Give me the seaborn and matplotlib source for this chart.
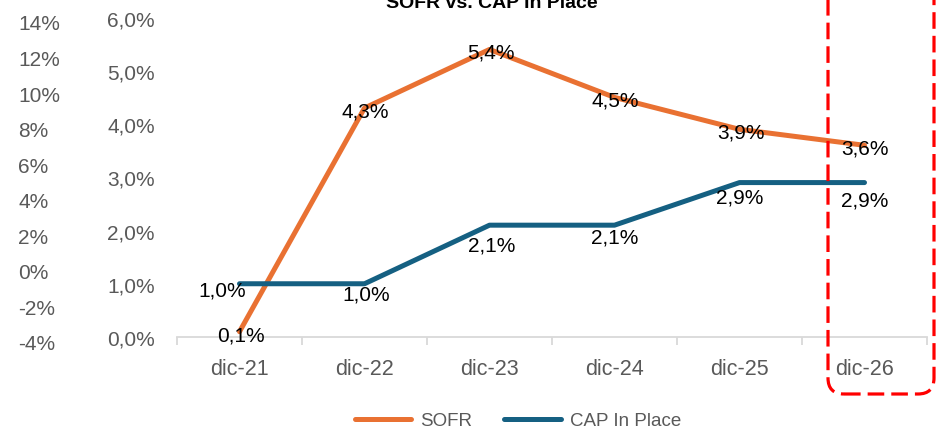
import matplotlib
matplotlib.use("Agg")
import matplotlib.pyplot as plt
import seaborn as sns
import pandas as pd
from matplotlib.lines import Line2D
from matplotlib.patches import FancyBboxPatch
from matplotlib.ticker import FixedLocator, FuncFormatter

# ---- data ----
periods = ["dic-21", "dic-22", "dic-23", "dic-24", "dic-25", "dic-26"]
sofr = [0.1, 4.3, 5.4, 4.5, 3.9, 3.6]
cap = [1.0, 1.0, 2.1, 2.1, 2.9, 2.9]
series_names = ["SOFR", "CAP In Place"]
left_ticks = [-4, -2, 0, 2, 4, 6, 8, 10, 12, 14]
main_ticks = [0, 1, 2, 3, 4, 5, 6]
title = "SOFR vs. CAP In Place"

df = pd.DataFrame({
    "period": periods * 2,
    "value": sofr + cap,
    "series": [series_names[0]] * len(periods) + [series_names[1]] * len(periods),
})

sns.set_theme(style="white")
plt.rcParams["font.family"] = ["Liberation Sans", "DejaVu Sans"]

W, H = 936, 431
fig = plt.figure(figsize=(W / 100, H / 100), dpi=100)
fig.patch.set_facecolor("white")

ax_left, ax_right = 177 / W, 927 / W
ax_bot, ax_top = 1 - 338 / H, 1 - 18.5 / H
ax = fig.add_axes([ax_left, ax_bot, ax_right - ax_left, ax_top - ax_bot])

orange = "#E97132"
blue = "#156082"
palette = {series_names[0]: orange, series_names[1]: blue}

sns.lineplot(data=df, x="period", y="value", hue="series", palette=palette,
             linewidth=3.6, legend=False, ax=ax, sort=False)
for ln in ax.get_lines():
    ln.set_solid_capstyle("round")

ax.set_xlim(-0.5, len(periods) - 0.5)
ax.set_ylim(0, 6)
ax.set_xlabel("")
ax.set_ylabel("")

for s in ["top", "right", "left"]:
    ax.spines[s].set_visible(False)
ax.spines["bottom"].set_color("#D9D9D9")
ax.spines["bottom"].set_linewidth(1.3)

grey = "#595959"
ax.yaxis.set_major_locator(FixedLocator(main_ticks))
ax.yaxis.set_major_formatter(FuncFormatter(lambda v, p: f"{v:.1f}".replace(".", ",") + "%"))
ax.tick_params(axis="y", length=0, pad=16, labelsize=15, labelcolor=grey)

ax.set_xticks(range(len(periods)))
ax.set_xticklabels(periods)
ax.tick_params(axis="x", which="major", bottom=True, length=0, pad=15, labelsize=15.5, labelcolor=grey)
ax.set_xticks([i - 0.5 for i in range(len(periods) + 1)], minor=True)
ax.tick_params(axis="x", which="minor", bottom=True, length=6, width=1.3,
               color="#D9D9D9", direction="out")

# data labels
for i, v in enumerate(sofr):
    ax.annotate(f"{v:.1f}".replace(".", ",") + "%", (i, v), textcoords="offset pixels",
                xytext=(1, -3), ha="center", va="center", fontsize=15, color="black")
cap_offsets = [(7, -6, "right"), (2, -10, "center"), (2, -20, "center"),
               (0, -12, "center"), (0, -14, "center"), (0, -17, "center")]
for i, v in enumerate(cap):
    dx, dy, ha = cap_offsets[i]
    ax.annotate(f"{v:.1f}".replace(".", ",") + "%", (i, v), textcoords="offset pixels",
                xytext=(dx, dy), ha=ha, va="center", fontsize=15, color="black")

# outer left axis (-4% .. 14%)
ax2 = fig.add_axes([18 / W, 1 - 343 / H, 0.0001, (343 - 23) / H])
ax2.set_ylim(-4, 14)
ax2.yaxis.tick_right()
ax2.yaxis.set_major_locator(FixedLocator(left_ticks))
ax2.yaxis.set_major_formatter(FuncFormatter(lambda v, p: f"{int(v)}%"))
ax2.tick_params(axis="y", length=0, pad=0, labelsize=15, labelcolor=grey)
ax2.set_xticks([])
for s in ax2.spines.values():
    s.set_visible(False)
ax2.patch.set_alpha(0)

# title (cut off at the top, as in reference)
fig.text(492 / W, 1 - 8 / H, title, ha="center", va="baseline",
         fontsize=14, fontweight="bold", color="black")

# legend
handles = [Line2D([0], [0], color=orange, lw=3.6, solid_capstyle="round"),
           Line2D([0], [0], color=blue, lw=3.6, solid_capstyle="round")]
fig.legend(handles, series_names, loc="center", bbox_to_anchor=(518 / W, 1 - 421.5 / H),
           ncol=2, frameon=False, fontsize=13.5, handlelength=3.0, handletextpad=0.5,
           columnspacing=1.7, labelcolor=grey)

# red dashed rounded box highlighting dic-26
box = FancyBboxPatch((828 / 100, 36 / 100), (934 - 828) / 100, 4.6,
                     boxstyle="round,pad=0,rounding_size=0.16",
                     transform=fig.dpi_scale_trans, fill=False,
                     edgecolor="#FF0000", linewidth=2.3, linestyle=(0, (5.2, 2.2)),
                     clip_on=False)
fig.patches.append(box)

fig.savefig("out.png", dpi=100, facecolor="white")
